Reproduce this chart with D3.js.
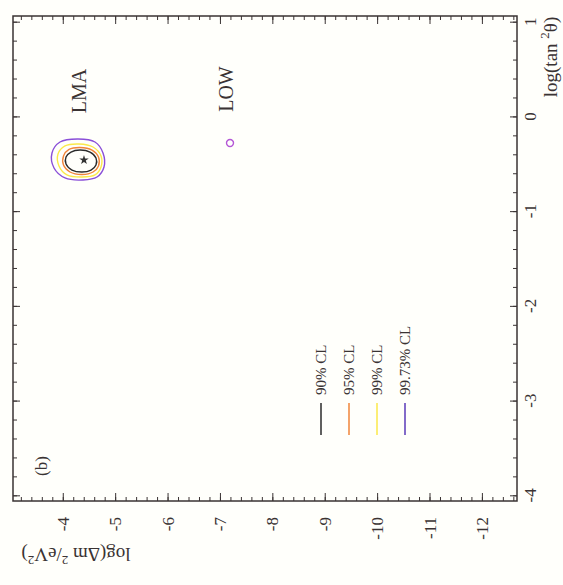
<!DOCTYPE html>
<html>
<head>
<meta charset="utf-8">
<script src="https://cdn.jsdelivr.net/npm/d3@7"></script>
<style>
  body { margin: 0; background: #fffffb; }
  svg { display: block; font-family: "Liberation Serif", "DejaVu Serif", serif; }
</style>
</head>
<body>
<svg width="563" height="585"></svg>
<script>
// the figure is printed rotated 90deg counter-clockwise:
// log(dm^2) runs along the bottom, log(tan^2 theta) up the right side
const dmTicks = [-4, -5, -6, -7, -8, -9, -10, -11, -12];
const tanTicks = [1, 0, -1, -2, -3, -4];
const clLabels = ["90% CL", "95% CL", "99% CL", "99.73% CL"];

// LMA contours, [log dm2] and [log tan2]
const cl90Dm  = [-4.329, -4.520, -4.634, -4.634, -4.539, -4.367, -4.176, -4.062, -4.062, -4.157];
const cl90Tan = [-0.355, -0.376, -0.439, -0.513, -0.566, -0.587, -0.566, -0.502, -0.428, -0.376];
const cl95Dm  = [-4.329, -4.558, -4.682, -4.682, -4.577, -4.367, -4.138, -4.014, -4.014, -4.119];
const cl95Tan = [-0.328, -0.355, -0.428, -0.523, -0.587, -0.613, -0.587, -0.513, -0.418, -0.349];
const cl99Dm  = [-4.310, -4.577, -4.730, -4.730, -4.615, -4.367, -4.081, -3.928, -3.909, -4.043];
const cl99Tan = [-0.291, -0.323, -0.418, -0.534, -0.618, -0.640, -0.618, -0.523, -0.397, -0.312];
const cl997Dm  = [-4.291, -4.615, -4.768, -4.787, -4.653, -4.386, -4.043, -3.833, -3.794, -3.947];
const cl997Tan = [-0.238, -0.270, -0.386, -0.534, -0.640, -0.671, -0.650, -0.545, -0.386, -0.270];
// tiny LOW island (99.73% only)
const lowDm  = [-7.192, -7.239, -7.259, -7.239, -7.192, -7.145, -7.125, -7.145];
const lowTan = [-0.244, -0.255, -0.281, -0.307, -0.318, -0.307, -0.281, -0.255];
const bestDm = -4.405, bestTan = -0.46;
const regionNames = ["LMA", "LOW"];
const regionDm = [-4.31, -7.116];
const regionTan = [0.268, 0.289];

const colors = ["#2b2b2b", "#f0843a", "#fbe94a", "#8a4fd8"];
const legColors = ["#2b2b2b", "#f0843a", "#fbe94a", "#5a3ab8"];
const ink = "#3a3333";

const svg = d3.select("svg");
const pL = 13, pR = 517, pT = 16, pB = 501;

const x = d3.scaleLinear().domain([-3.05, -12.67]).range([pL, pR]);
const y = d3.scaleLinear().domain([1.06, -4.06]).range([pT, pB]);

const dmMinor = d3.range(-3.2, -12.65, -0.2);
const tanMinor = d3.range(1.0, -4.05, -0.2);

function ticks(axis, tr, vals, size) {
  svg.append("g")
    .attr("transform", tr)
    .call(axis.tickValues(vals).tickSize(size).tickFormat(""))
    .call(g => g.select(".domain").remove())
    .call(g => g.selectAll("line").attr("stroke", ink).attr("stroke-width", 1));
}
// ticks point inward on all four sides
ticks(d3.axisTop(x), `translate(0,${pB})`, dmMinor, 4);
ticks(d3.axisTop(x), `translate(0,${pB})`, dmTicks, 8);
ticks(d3.axisBottom(x), `translate(0,${pT})`, dmMinor, 4);
ticks(d3.axisBottom(x), `translate(0,${pT})`, dmTicks, 8);
ticks(d3.axisLeft(y), `translate(${pR},0)`, tanMinor, 4);
ticks(d3.axisLeft(y), `translate(${pR},0)`, tanTicks, 7);
ticks(d3.axisRight(y), `translate(${pL},0)`, tanMinor, 4);
ticks(d3.axisRight(y), `translate(${pL},0)`, tanTicks, 7);

svg.append("rect")
  .attr("x", pL).attr("y", pT)
  .attr("width", pR - pL).attr("height", pB - pT)
  .attr("fill", "none").attr("stroke", ink).attr("stroke-width", 1.5);

// tick labels
svg.selectAll(".dml").data(dmTicks).join("text")
  .attr("transform", d => `translate(${x(d) + 6},517) rotate(-90)`)
  .attr("text-anchor", "end").attr("font-size", 17).attr("fill", ink)
  .text(d => String(d));

svg.selectAll(".tnl").data(tanTicks).join("text")
  .attr("transform", d => `translate(536,${y(d)}) rotate(-90)`)
  .attr("text-anchor", "middle").attr("font-size", 17).attr("fill", ink)
  .text(d => String(d));

// axis titles
const tt = svg.append("text")
  .attr("transform", "translate(557,57) rotate(-90)")
  .attr("text-anchor", "middle").attr("font-size", 19).attr("fill", ink);
tt.append("tspan").text("log(tan ");
tt.append("tspan").attr("dy", -8).attr("font-size", 13).text("2");
tt.append("tspan").attr("dy", 8).text("\u03b8)");

const bt = svg.append("text")
  .attr("transform", "translate(76,548) rotate(180)")
  .attr("text-anchor", "middle").attr("font-size", 19).attr("fill", ink);
bt.append("tspan").text("log(\u0394m ");
bt.append("tspan").attr("dy", -8).attr("font-size", 13).text("2");
bt.append("tspan").attr("dy", 8).text("/eV");
bt.append("tspan").attr("dy", -8).attr("font-size", 13).text("2");
bt.append("tspan").attr("dy", 8).text(")");

svg.append("text")
  .attr("transform", "translate(47,466) rotate(-90)")
  .attr("text-anchor", "middle").attr("font-size", 17).attr("fill", ink)
  .text("(b)");

// contours
const line = d3.line()
  .x(p => x(p[0])).y(p => y(p[1]))
  .curve(d3.curveCatmullRomClosed);
const contours = [
  [cl997Dm, cl997Tan, "#8a4fd8"],
  [lowDm, lowTan, "#b457d6"],
  [cl99Dm, cl99Tan, colors[2]],
  [cl95Dm, cl95Tan, colors[1]],
  [cl90Dm, cl90Tan, colors[0]]
];
contours.forEach(c => {
  svg.append("path")
    .attr("d", line(d3.zip(c[0], c[1])))
    .attr("fill", "none")
    .attr("stroke", c[2])
    .attr("stroke-width", 1.4);
});

svg.append("path")
  .attr("transform", `translate(${x(bestDm)},${y(bestTan)})`)
  .attr("d", d3.symbol(d3.symbolStar, 28)())
  .attr("fill", "#333");

svg.selectAll(".reg").data(regionNames).join("text")
  .attr("transform", (d, i) => `translate(${x(regionDm[i]) + 7},${y(regionTan[i])}) rotate(-90)`)
  .attr("text-anchor", "middle").attr("font-size", 20).attr("fill", ink)
  .text(d => d);

// legend
const legX = [321, 349, 377, 405];
clLabels.forEach((lab, i) => {
  svg.append("line")
    .attr("x1", legX[i]).attr("x2", legX[i])
    .attr("y1", 403).attr("y2", 435)
    .attr("stroke", legColors[i]).attr("stroke-width", 1.5);
  svg.append("text")
    .attr("transform", `translate(${legX[i] + 5},395) rotate(-90)`)
    .attr("font-size", 15).attr("fill", ink)
    .text(lab);
});
</script>
</body>
</html>
